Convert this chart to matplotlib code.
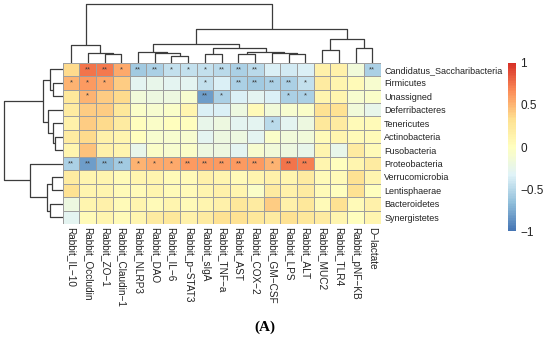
import numpy as np
import matplotlib
matplotlib.use("Agg")
import matplotlib.pyplot as plt
from matplotlib.colors import LinearSegmentedColormap, Normalize
import matplotlib.colorbar as mcolorbar

plt.rcParams['font.family'] = ['Liberation Sans', 'DejaVu Sans']

rows = ["Candidatus_Saccharibacteria", "Firmicutes", "Unassigned", "Deferribacteres",
        "Tenericutes", "Actinobacteria", "Fusobacteria", "Proteobacteria",
        "Verrucomicrobia", "Lentisphaerae", "Bacteroidetes", "Synergistetes"]
cols = ["Rabbit_IL\u221210", "Rabbit_Occludin", "Rabbit_ZO\u22121", "Rabbit_Claudin\u22121",
        "Rabbit_NLRP3", "Rabbit_DAO", "Rabbit_IL\u22126", "Rabbit_p\u2212STAT3", "Rabbit_sIgA",
        "Rabbit_TNF\u2212a", "Rabbit_AST", "Rabbit_COX\u22122", "Rabbit_GM\u2212CSF", "Rabbit_LPS",
        "Rabbit_ALT", "Rabbit_MUC2", "Rabbit_TLR4", "Rabbit_pNF\u2212KB", "D\u2212lactate"]

corr = np.array([
    [0.35, 0.75, 0.72, 0.55, -0.60, -0.55, -0.45, -0.45, -0.45, -0.50, -0.55, -0.50, -0.35, -0.40, -0.35, 0.15, 0.15, -0.15, -0.55],
    [0.50, 0.60, 0.55, 0.40, -0.30, -0.25, -0.30, -0.30, -0.45, -0.35, -0.55, -0.60, -0.55, -0.55, -0.45, 0.20, 0.10, 0.05, -0.10],
    [0.25, 0.50, 0.40, 0.35, -0.15, -0.20, -0.20, -0.10, -0.80, -0.55, -0.35, -0.30, -0.35, -0.55, -0.55, 0.10, 0.10, -0.10, -0.05],
    [0.20, 0.40, 0.40, 0.25, -0.05, -0.10, -0.05, 0.10, -0.35, -0.35, -0.20, 0.05, -0.15, -0.10, -0.05, 0.30, 0.30, -0.15, -0.25],
    [0.15, 0.40, 0.35, 0.20, 0.00, -0.05, 0.00, 0.00, -0.25, -0.20, -0.30, -0.30, -0.50, -0.30, -0.20, 0.25, 0.20, 0.05, 0.05],
    [0.20, 0.35, 0.15, 0.10, 0.00, -0.10, -0.10, -0.10, -0.30, -0.20, -0.20, -0.30, -0.05, -0.15, -0.15, 0.05, 0.10, 0.05, 0.05],
    [0.10, 0.45, 0.15, 0.10, -0.25, -0.05, -0.10, -0.05, -0.20, -0.20, -0.30, -0.10, -0.15, -0.20, -0.25, 0.10, -0.25, 0.20, 0.05],
    [-0.55, -0.80, -0.70, -0.60, 0.50, 0.55, 0.55, 0.60, 0.60, 0.60, 0.60, 0.60, 0.50, 0.75, 0.70, 0.10, 0.00, 0.10, 0.20],
    [0.20, 0.10, 0.10, 0.05, 0.10, 0.10, 0.05, 0.05, 0.15, 0.10, 0.05, 0.10, 0.15, 0.10, 0.20, 0.05, 0.05, 0.30, 0.10],
    [0.30, 0.10, 0.10, 0.05, 0.05, 0.10, 0.05, 0.05, 0.10, 0.15, 0.10, -0.05, 0.20, 0.15, 0.20, 0.05, 0.00, 0.30, 0.00],
    [-0.20, 0.10, 0.15, 0.05, 0.10, 0.05, 0.10, 0.05, 0.10, 0.15, 0.25, 0.20, 0.40, 0.15, 0.25, 0.05, 0.30, 0.05, 0.15],
    [-0.30, 0.05, 0.10, 0.05, 0.10, 0.20, 0.25, 0.15, 0.20, 0.30, 0.30, 0.25, 0.20, 0.30, 0.25, 0.20, 0.10, 0.00, 0.10],
])

stars = [
    ["", "**", "**", "*", "**", "**", "*", "*", "*", "**", "**", "**", "", "", "", "", "", "", "**"],
    ["*", "*", "*", "", "", "", "", "", "*", "", "**", "**", "**", "**", "*", "", "", "", ""],
    ["", "*", "", "", "", "", "", "", "**", "*", "", "", "", "*", "*", "", "", "", ""],
    [""] * 19,
    ["", "", "", "", "", "", "", "", "", "", "", "", "*", "", "", "", "", "", ""],
    [""] * 19,
    [""] * 19,
    ["**", "**", "**", "**", "*", "*", "*", "**", "**", "**", "**", "**", "*", "**", "**", "", "", "", ""],
    [""] * 19,
    [""] * 19,
    [""] * 19,
    [""] * 19,
]

# linkage (display-order leaves): [left, right, height]
col_links = [
    [2, 3, 8.7], [1, 19, 10.0], [0, 20, 17.7],
    [6, 7, 7.0], [5, 22, 10.0], [4, 23, 11.0],
    [8, 9, 8.7], [10, 11, 8.4], [13, 14, 8.2], [12, 27, 9.4], [26, 28, 11.0], [25, 29, 14.4],
    [24, 30, 18.7],
    [15, 16, 12.7], [17, 18, 15.0], [32, 33, 23.4],
    [31, 34, 33.4], [21, 35, 58.4],
]
row_links = [
    [1, 2, 9.4], [0, 12, 12.7],
    [5, 6, 7.7], [4, 14, 9.4], [3, 15, 14.4],
    [13, 16, 19.4],
    [8, 9, 11.0], [10, 11, 12.7], [18, 19, 16.0], [7, 20, 32.7],
    [17, 21, 58.7],
]

W, H = 550, 341
fig = plt.figure(figsize=(W / 100, H / 100), dpi=100)

def fx(px):
    return px / W

def fy(py):
    return 1 - py / H

hx0, hx1, hy0, hy1 = 62.7, 380.7, 62.7, 224.0
cmap = LinearSegmentedColormap.from_list(
    "ph", ["#4575B4", "#91BFDB", "#E0F3F8", "#FFFFBF", "#FEE090", "#FC8D59", "#D73027"], N=100)

ax = fig.add_axes([fx(hx0), fy(hy1), fx(hx1 - hx0), (hy1 - hy0) / H])
nr, nc = corr.shape
ax.pcolormesh(np.arange(nc + 1), np.arange(nr + 1), corr, cmap=cmap, vmin=-1, vmax=1,
              edgecolors="#9E9E9E", linewidth=0.7)
ax.set_xlim(0, nc)
ax.set_ylim(nr, 0)
for i in range(nr):
    for j in range(nc):
        if stars[i][j]:
            ax.text(j + 0.5, i + 0.5, stars[i][j], ha="center", va="center",
                    fontsize=5.5, color="#3a3a3a")
ax.set_xticks(np.arange(nc) + 0.5)
ax.set_xticklabels(cols, rotation=-90, fontsize=7.2, color="#222222", va="top", ha="center")
ax.set_yticks(np.arange(nr) + 0.5)
ax.set_yticklabels(rows, fontsize=6.5, color="#222222")
ax.yaxis.tick_right()
ax.tick_params(length=0, pad=2.5)
for s in ax.spines.values():
    s.set_visible(False)

def draw_dendro(axd, links, n, orient):
    pos = {i: i + 0.5 for i in range(n)}
    hgt = {i: 0.0 for i in range(n)}
    for k, (a, b, h) in enumerate(links):
        xa, xb = pos[a], pos[b]
        ha, hb = hgt[a], hgt[b]
        xs = [xa, xa, xb, xb]
        ys = [ha, h, h, hb]
        if orient == "top":
            axd.plot(xs, ys, color="#3c3c3c", lw=0.9, solid_capstyle="butt")
        else:
            axd.plot(ys, xs, color="#3c3c3c", lw=0.9, solid_capstyle="butt")
        pos[n + k] = (xa + xb) / 2
        hgt[n + k] = h

axt = fig.add_axes([fx(hx0), fy(hy0), fx(hx1 - hx0), hy0 / H])
draw_dendro(axt, col_links, nc, "top")
axt.set_xlim(0, nc)
axt.set_ylim(0, hy0)
axt.axis("off")

axl = fig.add_axes([0, fy(hy1), fx(hx0), (hy1 - hy0) / H])
draw_dendro(axl, row_links, nr, "left")
axl.set_ylim(nr, 0)
axl.set_xlim(hx0, 0)
axl.axis("off")

cax = fig.add_axes([fx(508), fy(231.5), fx(8), (231.5 - 62.7) / H])
cb = mcolorbar.ColorbarBase(cax, cmap=cmap, norm=Normalize(-1, 1), orientation="vertical")
cb.outline.set_visible(False)
cb.set_ticks([-1, -0.5, 0, 0.5, 1])
cb.set_ticklabels(["\u22121", "\u22120.5", "0", "0.5", "1"])
cax.tick_params(length=0, labelsize=8.5, pad=3, colors="#222222")

fig.text(fx(265), fy(327), "(A)", fontsize=11, fontweight="bold", family="Liberation Serif",
         ha="center", va="center")

fig.savefig("out.png", dpi=100)
